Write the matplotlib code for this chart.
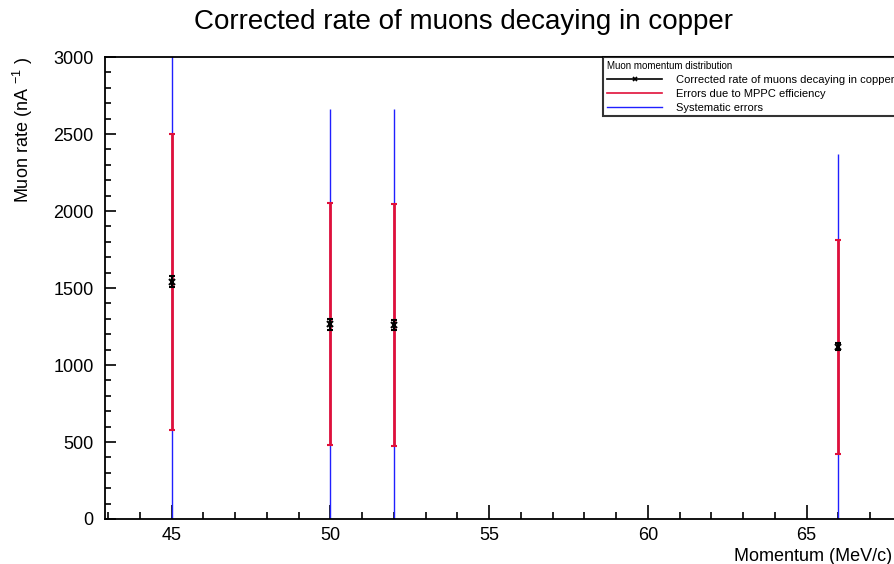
import matplotlib.pyplot as plt
from matplotlib.lines import Line2D
from matplotlib.ticker import MultipleLocator

plt.rcParams['font.family'] = ['Liberation Sans', 'DejaVu Sans']
plt.rcParams['mathtext.fontset'] = 'custom'
plt.rcParams['mathtext.rm'] = 'Liberation Sans'

# muon momentum (MeV/c) and corrected decay rate
momentum = [45, 50, 52, 66]
rate = [1540, 1265, 1260, 1120]
stat_err = [35, 35, 30, 25]
mppc_err = [960, 785, 785, 695]
syst_err = [1600, 1400, 1400, 1250]

fig = plt.figure(figsize=(8.95, 5.64), dpi=100)
ax = fig.add_axes([0.1173, 0.0798, 0.894, 0.819])

ax.errorbar(momentum, rate, yerr=syst_err, fmt='none', ecolor='#2020ff',
            elinewidth=1.0, capsize=0, zorder=2)
ax.errorbar(momentum, rate, yerr=mppc_err, fmt='none', ecolor='#e0103a',
            elinewidth=2.0, capsize=2, capthick=1.5, zorder=3)
ax.errorbar(momentum, rate, yerr=stat_err, fmt='x', color='black', ms=4,
            mew=1.5, ecolor='black', elinewidth=1.5, capsize=2.5,
            capthick=1.5, zorder=4)

ax.set_xlim(42.9, 68.1)
ax.set_ylim(0, 3000)
ax.xaxis.set_major_locator(MultipleLocator(5))
ax.xaxis.set_minor_locator(MultipleLocator(1))
ax.yaxis.set_major_locator(MultipleLocator(500))
ax.yaxis.set_minor_locator(MultipleLocator(100))
ax.tick_params(which='both', direction='in', labelsize=13, width=1.2)
ax.tick_params(axis='x', which='major', length=10, pad=6)
ax.tick_params(axis='x', which='minor', length=5)
ax.tick_params(axis='y', which='major', length=8, pad=8)
ax.tick_params(axis='y', which='minor', length=4)
for s in ax.spines.values():
    s.set_linewidth(1.3)

fig.text(464 / 895, 1 - 22 / 564, 'Corrected rate of muons decaying in copper',
         fontsize=20, ha='center', va='center')
ax.set_xlabel('Momentum (MeV/c)', fontsize=13, ha='right')
ax.xaxis.set_label_coords(0.984, -0.062)
ax.set_ylabel('Muon rate (nA $^{\\mathregular{-1}}$ )', fontsize=13, ha='right')
ax.yaxis.set_label_coords(-0.087, 1.0)

handles = [
    Line2D([], [], color='black', marker='x', ms=3, mew=1.2, lw=1.2),
    Line2D([], [], color='#e0103a', lw=1.2),
    Line2D([], [], color='#2020ff', lw=1.0),
]
labels = ['Corrected rate of muons decaying in copper',
          'Errors due to MPPC efficiency', 'Systematic errors']
leg = fig.legend(handles, labels, title='Muon momentum distribution',
                 loc='upper left', bbox_to_anchor=(603 / 895, 1 - 57 / 564),
                 fontsize=8, title_fontsize=7, frameon=True, fancybox=False,
                 handlelength=5.0, handletextpad=1.2, borderpad=0.35,
                 labelspacing=0.35, borderaxespad=0)
leg._legend_box.align = 'left'
leg.get_frame().set_edgecolor('black')
leg.get_frame().set_linewidth(1.5)

fig.savefig('out.png', dpi=100)
